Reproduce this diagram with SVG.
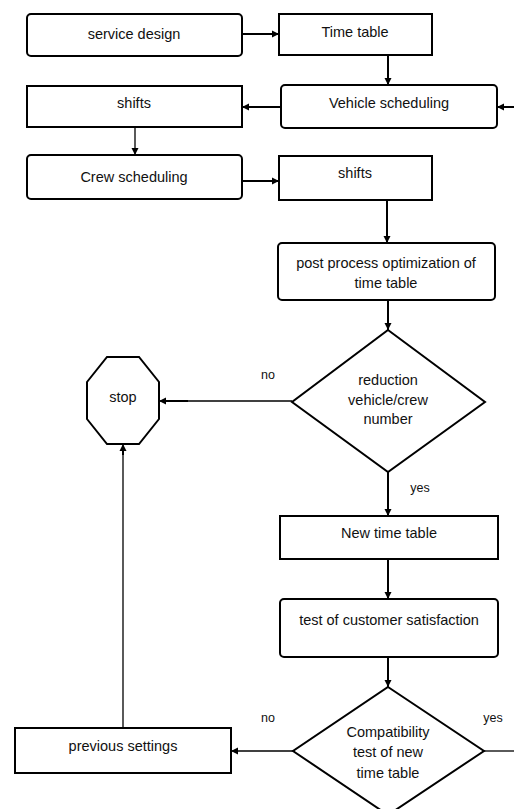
<svg xmlns="http://www.w3.org/2000/svg" width="514" height="809" viewBox="0 0 514 809">
<style>
.box{fill:#fff;stroke:#000;stroke-width:2}
.t{font-family:"Liberation Sans",Arial,sans-serif;font-size:14.5px;fill:#111;text-anchor:middle}
.s{font-family:"Liberation Sans",Arial,sans-serif;font-size:12.5px;fill:#111;text-anchor:middle}
.thick{fill:none;stroke:#000;stroke-width:2}
.thin{fill:none;stroke:#000;stroke-width:1.3}
</style>
<defs>
<marker id="ah" markerUnits="userSpaceOnUse" markerWidth="8" markerHeight="8" refX="7" refY="4" orient="auto">
<path d="M0,0.5 L7,4 L0,7.5 z" fill="#000"/>
</marker>
</defs>
<rect width="514" height="809" fill="#fff"/>
<g id="connectors">
<line class="thick" x1="242" y1="34" x2="279" y2="34" marker-end="url(#ah)"/>
<line class="thick" x1="388" y1="55" x2="388" y2="85" marker-end="url(#ah)"/>
<line class="thick" x1="514" y1="107" x2="497" y2="107" marker-end="url(#ah)"/>
<line class="thick" x1="281" y1="107" x2="242" y2="107" marker-end="url(#ah)"/>
<line class="thin" x1="135" y1="127" x2="135" y2="155" marker-end="url(#ah)"/>
<line class="thick" x1="242" y1="181" x2="279" y2="181" marker-end="url(#ah)"/>
<line class="thick" x1="387" y1="200" x2="387" y2="243" marker-end="url(#ah)"/>
<line class="thick" x1="388" y1="300" x2="388" y2="330" marker-end="url(#ah)"/>
<line class="thin" x1="292" y1="401" x2="159" y2="401" marker-end="url(#ah)"/>
<line class="thick" x1="188" y1="401" x2="164" y2="401"/>
<line class="thick" x1="388" y1="472" x2="388" y2="516" marker-end="url(#ah)"/>
<line class="thick" x1="388" y1="559" x2="388" y2="599" marker-end="url(#ah)"/>
<line class="thick" x1="388" y1="657" x2="388" y2="687" marker-end="url(#ah)"/>
<line class="thin" x1="293" y1="751" x2="231" y2="751" marker-end="url(#ah)"/>
<line class="thin" x1="484" y1="751" x2="514" y2="751"/>
<line class="thin" x1="123" y1="728" x2="123" y2="444" marker-end="url(#ah)"/>
<line class="thick" x1="123" y1="455" x2="123" y2="449"/>
<text class="s" x="268" y="379">no</text>
<text class="s" x="420" y="492">yes</text>
<text class="s" x="268" y="722">no</text>
<text class="s" x="493" y="722">yes</text>
</g>
<g id="service-design">
<rect class="box" x="27" y="14" width="215" height="42" rx="4"/>
<text class="t" x="134" y="39">service design</text>
</g>
<g id="time-table">
<rect class="box" x="279" y="14" width="153" height="41"/>
<text class="t" x="355" y="37">Time table</text>
</g>
<g id="shifts-1">
<rect class="box" x="27" y="86" width="215" height="41"/>
<text class="t" x="134" y="108">shifts</text>
</g>
<g id="vehicle-scheduling">
<rect class="box" x="281" y="85" width="216" height="43" rx="4"/>
<text class="t" x="389" y="108">Vehicle scheduling</text>
</g>
<g id="crew-scheduling">
<rect class="box" x="27" y="155" width="215" height="44" rx="4"/>
<text class="t" x="134" y="182">Crew scheduling</text>
</g>
<g id="shifts-2">
<rect class="box" x="279" y="156" width="153" height="44"/>
<text class="t" x="355" y="178">shifts</text>
</g>
<g id="post-process">
<rect class="box" x="278" y="243" width="217" height="57" rx="4"/>
<text class="t" x="386" y="268">post process optimization of</text>
<text class="t" x="386" y="288">time table</text>
</g>
<g id="reduction">
<polygon class="box" points="388,330 485,402 388,472 292,402"/>
<text class="t" x="388" y="385">reduction</text>
<text class="t" x="388" y="405">vehicle/crew</text>
<text class="t" x="388" y="424">number</text>
</g>
<g id="stop">
<polygon class="box" points="107,357 139,357 159,382 159,419 139,444 107,444 87,419 87,382"/>
<text class="t" x="123" y="402">stop</text>
</g>
<g id="new-time-table">
<rect class="box" x="280" y="516" width="218" height="43"/>
<text class="t" x="389" y="538">New time table</text>
</g>
<g id="customer-satisfaction">
<rect class="box" x="280" y="599" width="218" height="58" rx="4"/>
<text class="t" x="389" y="625">test of customer satisfaction</text>
</g>
<g id="compatibility">
<polygon class="box" points="388,687 484,751 388,815 293,751"/>
<text class="t" x="388" y="737">Compatibility</text>
<text class="t" x="388" y="757">test of new</text>
<text class="t" x="388" y="778">time table</text>
</g>
<g id="previous-settings">
<rect class="box" x="15" y="728" width="216" height="45"/>
<text class="t" x="123" y="751">previous settings</text>
</g>
</svg>
